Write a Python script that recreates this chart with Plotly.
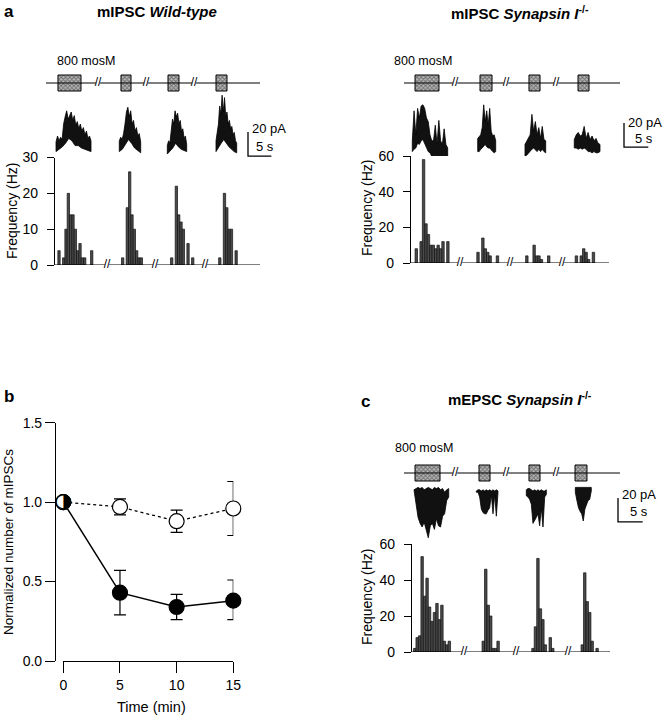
import plotly.graph_objects as go

W, H = 666, 719
FONT = "Liberation Sans, Arial, Helvetica, sans-serif"
BIN = 0.5          # histogram bin width (s)
SCALE_PA = 20      # scale bar, current
SCALE_S = 5        # scale bar, time

# ================= Panel a, left : mIPSC wild-type =================
wt_hist_start = [4.07, 17.70, 28.20, 38.50]
wt_hist_g1 = [4, 0, 2, 10, 20, 14, 14, 10, 4, 6, 2, 2, 0, 0, 4]
wt_hist_g2 = [2, 0, 16, 26, 14, 10, 4, 2, 2]
wt_hist_g3 = [2, 0, 22, 14, 12, 10, 0, 6, 0, 2]
wt_hist_g4 = [2, 0, 20, 16, 10, 10, 0, 4]
wt_stim_on = [3.85, 17.34, 27.41, 37.69]
wt_stim_off = [8.78, 19.49, 29.76, 40.04]
wt_stim_line = [1.28, 47.11]
wt_stim_breaks = [12.42, 22.70, 32.98]
wt_base_line = [3.00, 47.11]
wt_base_breaks = [14.35, 24.63, 35.33]
wt_tr_start = [3.43, 16.98, 27.26, 37.69]
wt_tr_end = [10.92, 21.56, 31.41, 42.12]
wt_tr1_up = [15, 20, 16, 19, 17, 30, 36, 41, 34, 38, 40, 33, 37, 29, 32, 26, 30, 24, 27, 21, 24, 18, 20, 16]
wt_tr1_lo = [7, 9, 11, 14, 18, 16, 12, 12, 10, 9, 8, 7]
wt_tr2_up = [16, 19, 17, 22, 30, 40, 44, 36, 41, 30, 33, 24, 27, 20, 22, 15]
wt_tr2_lo = [7, 9, 13, 17, 14, 10, 8, 6]
wt_tr3_up = [12, 16, 14, 24, 34, 30, 41, 36, 39, 30, 33, 24, 26, 18, 20, 13]
wt_tr3_lo = [5, 7, 10, 14, 11, 9, 8, 7]
wt_tr4_up = [16, 22, 30, 45, 38, 54, 40, 52, 36, 40, 30, 33, 26, 28, 21, 23, 16, 14]
wt_tr4_lo = [7, 10, 14, 17, 14, 11, 9, 7, 6]
wt_scale = [44.54, 3.3]

# ================= Panel a, right : mIPSC Synapsin I -/- =================
ko_hist_start = [3.35, 16.05, 26.10, 36.30]
ko_hist_g1 = [8, 0, 12, 58, 22, 16, 10, 10, 8, 10, 8, 12, 0, 12]
ko_hist_g2 = [6, 0, 14, 8, 6, 4, 0, 0, 4]
ko_hist_g3 = [4, 0, 0, 10, 4, 4, 2, 0, 0, 4]
ko_hist_g4 = [4, 0, 4, 8, 6, 2, 0, 6]
ko_stim_on = [3.09, 16.46, 26.54, 36.63]
ko_stim_off = [8.02, 18.93, 28.81, 38.89]
ko_stim_line = [0.82, 45.27]
ko_stim_breaks = [11.32, 21.81, 32.10]
ko_base_line = [2.06, 43.00]
ko_base_breaks = [12.35, 22.63, 33.33]
ko_tr_start = [2.53, 15.99, 25.72, 35.86]
ko_tr_end = [9.81, 19.69, 29.98, 41.15]
ko_tr1_up = [16, 41, 21, 43, 35, 45, 46, 43, 35, 32, 21, 16, 16, 29, 13, 33, 16, 13, 26, 13, 10]
ko_tr1_lo = [7, 9, 10, 14, 13, 16, 17, 13, 10, 7, 6, 3, 3, 4, 2, 3, 2, 2, 3, 2, 3]
ko_tr2_up = [18, 20, 21, 27, 46, 32, 41, 29, 43, 24, 20, 21, 16]
ko_tr2_lo = [7, 7, 9, 10, 11, 13, 11, 10, 10, 9, 7, 6, 7]
ko_tr3_up = [13, 16, 18, 21, 38, 24, 32, 21, 27, 18, 28, 17, 16]
ko_tr3_lo = [3, 4, 6, 7, 9, 10, 9, 7, 9, 7, 9, 7, 6]
ko_tr4_up = [17, 21, 23, 20, 21, 28, 18, 23, 17, 20, 16, 18, 14, 13]
ko_tr4_lo = [10, 10, 9, 10, 9, 10, 9, 7, 7, 6, 7, 6, 6, 7]
ko_scale = [46.09, 10.8]

# ================= Panel b : normalized number of mIPSCs =================
time_min = [0, 5, 10, 15]
wt_norm = [1.00, 0.97, 0.88, 0.96]
wt_norm_err = [0.00, 0.05, 0.07, 0.17]
ko_norm = [1.00, 0.43, 0.34, 0.38]
ko_norm_err_up = [0.00, 0.14, 0.08, 0.13]
ko_norm_err_dn = [0.00, 0.14, 0.08, 0.12]

# ================= Panel c : mEPSC Synapsin I -/- =================
ep_hist_start = [2.98, 16.86, 26.92, 36.90]
ep_hist_g1 = [2, 8, 9, 53, 31, 41, 25, 17, 22, 27, 18, 26, 6, 4, 6]
ep_hist_g2 = [6, 46, 26, 20, 2, 2, 6]
ep_hist_g3 = [2, 14, 52, 24, 18, 4, 0, 8, 2]
ep_hist_g4 = [4, 44, 28, 22, 6, 0, 2]
ep_stim_on = [3.04, 15.99, 26.11, 35.43]
ep_stim_off = [8.10, 18.22, 28.34, 37.85]
ep_stim_line = [0.81, 44.53]
ep_stim_breaks = [11.13, 21.46, 31.58]
ep_base_line = [2.23, 42.51]
ep_base_breaks = [12.96, 23.48, 34.01]
ep_tr_start = [2.83, 15.45, 25.57, 35.49]
ep_tr_end = [9.86, 19.84, 29.62, 38.72]
ep_tr1_up = [46, 47, 48, 47, 48, 46, 47, 48, 47, 46, 48, 47, 48, 46, 47, 44, 46, 47]
ep_tr1_lo = [42, 34, 23, 18, 15, 19, 12, 6, 16, 18, 13, 22, 16, 15, 24, 26, 37, 40]
ep_tr2_up = [45, 46, 46, 45, 46, 45, 46, 45, 46, 45, 46, 45, 46, 45]
ep_tr2_lo = [44, 44, 40, 30, 27, 26, 26, 29, 31, 42, 26, 42, 24, 44]
ep_tr3_up = [46, 47, 47, 46, 45, 46, 45, 46, 45, 46, 45, 45, 46]
ep_tr3_lo = [41, 40, 38, 34, 18, 20, 23, 26, 16, 31, 15, 40, 42]
ep_tr4_up = [48, 48, 48, 48, 48, 48, 48, 48, 48, 48, 48]
ep_tr4_lo = [44, 37, 31, 28, 26, 20, 30, 34, 37, 38, 45]
ep_scale = [44.13, 19.2]

# ---------------------------------------------------------------
fig = go.Figure()


def px_x(a, b):
    return [a / W, b / W]


def px_y(top, bottom):
    return [1 - bottom / H, 1 - top / H]


def poly(t0, t1, up, lo):
    n, m = len(up), len(lo)
    tu = [t0 + (t1 - t0) * i / (n - 1) for i in range(n)]
    tl = [t0 + (t1 - t0) * i / (m - 1) for i in range(m)]
    return tu + tl[::-1] + [tu[0]], up + lo[::-1] + [up[0]]


def broken(lo, hi, breaks, gap, level):
    xs = [lo]
    for b in breaks:
        xs += [b - gap, None, b + gap]
    xs.append(hi)
    ys = [None if v is None else level for v in xs]
    return xs, ys


def panel(xa, ys_, yt, yh, stim_on, stim_off, stim_line, stim_breaks,
          base_line, base_breaks, h_start, h_groups, tr_start, tr_end, trs, scale):
    common = dict(hoverinfo="skip", showlegend=False)
    # stimulus protocol line
    sx, sy = broken(stim_line[0], stim_line[1], stim_breaks, 0.45, 0.5)
    fig.add_trace(go.Scatter(x=sx, y=sy, mode="lines", line=dict(color="black", width=1),
                             xaxis=xa, yaxis=ys_, **common))
    fig.add_trace(go.Scatter(x=stim_breaks, y=[0.5] * len(stim_breaks), mode="text",
                             text=["//"] * len(stim_breaks),
                             textfont=dict(size=12, family=FONT, color="black"),
                             xaxis=xa, yaxis=ys_, **common))
    fig.add_trace(go.Bar(x=[(a + b) / 2 for a, b in zip(stim_on, stim_off)],
                         y=[0.8] * len(stim_on), base=[0.1] * len(stim_on),
                         width=[b - a for a, b in zip(stim_on, stim_off)],
                         marker=dict(color="#9c9c9c", line=dict(color="black", width=1),
                                     pattern=dict(shape="x", fgcolor="#222222", bgcolor="#b8b8b8",
                                                  size=3, solidity=0.5)),
                         xaxis=xa, yaxis=ys_, **common))
    # current traces
    for t0, t1, (up, lo) in zip(tr_start, tr_end, trs):
        px_, py_ = poly(t0, t1, up, lo)
        fig.add_trace(go.Scatter(x=px_, y=py_, mode="lines", fill="toself", fillcolor="#111111",
                                 line=dict(color="black", width=0.8), xaxis=xa, yaxis=yt, **common))
    # scale bar
    fig.add_trace(go.Scatter(x=[scale[0], scale[0], scale[0] + SCALE_S],
                             y=[scale[1] + SCALE_PA, scale[1], scale[1]], mode="lines",
                             line=dict(color="black", width=1.3), xaxis=xa, yaxis=yt, **common))
    # histogram
    hx, hy = [], []
    for s, g in zip(h_start, h_groups):
        for i, v in enumerate(g):
            if v > 0:
                hx.append(s + BIN * i)
                hy.append(v)
    fig.add_trace(go.Bar(x=hx, y=hy, width=BIN,
                         marker=dict(color="#4a4a4a", line=dict(color="#111111", width=0.7)),
                         xaxis=xa, yaxis=yh, **common))
    bx, by = broken(base_line[0], base_line[1], base_breaks, 0.45, 0)
    fig.add_trace(go.Scatter(x=bx, y=by, mode="lines", line=dict(color="black", width=1.2),
                             xaxis=xa, yaxis=yh, cliponaxis=False, **common))
    fig.add_trace(go.Scatter(x=base_breaks, y=[0] * len(base_breaks), mode="text",
                             text=["//"] * len(base_breaks),
                             textfont=dict(size=12, family=FONT, color="black"),
                             xaxis=xa, yaxis=yh, cliponaxis=False, **common))


panel("x", "y", "y2", "y3", wt_stim_on, wt_stim_off, wt_stim_line, wt_stim_breaks,
      wt_base_line, wt_base_breaks, wt_hist_start,
      [wt_hist_g1, wt_hist_g2, wt_hist_g3, wt_hist_g4], wt_tr_start, wt_tr_end,
      [(wt_tr1_up, wt_tr1_lo), (wt_tr2_up, wt_tr2_lo), (wt_tr3_up, wt_tr3_lo), (wt_tr4_up, wt_tr4_lo)],
      wt_scale)
panel("x2", "y4", "y5", "y6", ko_stim_on, ko_stim_off, ko_stim_line, ko_stim_breaks,
      ko_base_line, ko_base_breaks, ko_hist_start,
      [ko_hist_g1, ko_hist_g2, ko_hist_g3, ko_hist_g4], ko_tr_start, ko_tr_end,
      [(ko_tr1_up, ko_tr1_lo), (ko_tr2_up, ko_tr2_lo), (ko_tr3_up, ko_tr3_lo), (ko_tr4_up, ko_tr4_lo)],
      ko_scale)
panel("x4", "y8", "y9", "y10", ep_stim_on, ep_stim_off, ep_stim_line, ep_stim_breaks,
      ep_base_line, ep_base_breaks, ep_hist_start,
      [ep_hist_g1, ep_hist_g2, ep_hist_g3, ep_hist_g4], ep_tr_start, ep_tr_end,
      [(ep_tr1_up, ep_tr1_lo), (ep_tr2_up, ep_tr2_lo), (ep_tr3_up, ep_tr3_lo), (ep_tr4_up, ep_tr4_lo)],
      ep_scale)

# ---- panel b ----
fig.add_trace(go.Scatter(x=time_min, y=ko_norm, mode="lines+markers",
                         line=dict(color="black", width=1.5),
                         marker=dict(size=15, color="black", line=dict(color="black", width=1.2)),
                         error_y=dict(type="data", symmetric=False, array=ko_norm_err_up,
                                      arrayminus=ko_norm_err_dn, color="black", thickness=1.2, width=6),
                         xaxis="x3", yaxis="y7", cliponaxis=False, hoverinfo="skip", showlegend=False))
fig.add_trace(go.Scatter(x=time_min, y=wt_norm, mode="lines+markers",
                         line=dict(color="black", width=1.3, dash="dot"),
                         marker=dict(size=15, color="white", line=dict(color="black", width=1.2)),
                         error_y=dict(type="data", array=wt_norm_err, color="black", thickness=1.2, width=6),
                         xaxis="x3", yaxis="y7", cliponaxis=False, hoverinfo="skip", showlegend=False))
fig.add_trace(go.Scatter(x=time_min[:1], y=ko_norm[:1], mode="text", text=["\u25D1"],
                         textposition="middle center",
                         textfont=dict(size=20, family="DejaVu Sans", color="black"),
                         xaxis="x3", yaxis="y7", cliponaxis=False, hoverinfo="skip", showlegend=False))

# ---- axes ----
def hx_axis(dom_px, rng):
    return dict(domain=px_x(*dom_px), range=rng, visible=False, fixedrange=True, automargin=False)


def hy_axis(anchor, dom_px, rng):
    return dict(domain=px_y(*dom_px), range=rng, visible=False, anchor=anchor, fixedrange=True,
                automargin=False)


def hist_axis(xpos, dom_px, rng, tickvals):
    return dict(domain=px_y(*dom_px), range=rng, anchor="free", position=xpos / W,
                showline=True, linecolor="black", linewidth=1.2, ticks="outside", ticklen=7,
                tickwidth=1.2, tickcolor="black", tickvals=tickvals, showgrid=False, zeroline=False,
                tickfont=dict(family=FONT, size=14, color="black"), ticklabelstandoff=6,
                fixedrange=True, automargin=False)


layout_axes = dict(
    xaxis=hx_axis((40, 300), [0, 260 / 4.67]),
    yaxis=hy_axis("x", (73, 93), [0, 1]),
    yaxis2=hy_axis("x", (93, 160), [0, 67 / 1.2]),
    yaxis3=hist_axis(54, (157.5, 265), [0, 30], [0, 10, 20, 30]),
    xaxis2=hx_axis((400, 666), [0, 266 / 4.86]),
    yaxis4=hy_axis("x2", (73, 93), [0, 1]),
    yaxis5=hy_axis("x2", (93, 160), [0, 67 / 1.2]),
    yaxis6=hist_axis(410, (156, 263), [0, 60], [0, 20, 40, 60]),
    xaxis4=hx_axis((400, 666), [0, 266 / 4.94]),
    yaxis8=hy_axis("x4", (463, 483), [0, 1]),
    yaxis9=hy_axis("x4", (484, 545), [0, 61 / 1.2]),
    yaxis10=hist_axis(411, (544, 652), [0, 60], [0, 20, 40, 60]),
    xaxis3=dict(domain=px_x(63.3, 233.3), range=[0, 15], anchor="y7", showline=True,
                linecolor="black", linewidth=1.2, ticks="outside", ticklen=11, tickwidth=1.2,
                tickcolor="black", tickvals=[0, 5, 10, 15], showgrid=False, zeroline=False,
                tickfont=dict(family=FONT, size=14, color="black"), fixedrange=True,
                automargin=False),
    yaxis7=dict(domain=px_y(422.7, 661), range=[0, 1.5], anchor="free", position=55 / W,
                showline=True, linecolor="black", linewidth=1.2, ticks="outside", ticklen=10,
                tickwidth=1.2, tickcolor="black", tickvals=[0, 0.5, 1.0, 1.5], tickformat=".1f",
                showgrid=False, zeroline=False,
                tickfont=dict(family=FONT, size=14, color="black"), fixedrange=True,
                automargin=False),
)

# ---- text ----
ann = []


def text(s, xpx, ypx, size, xanchor="center", yanchor="middle", angle=0):
    ann.append(dict(text=s, x=xpx / W, y=1 - ypx / H, xref="paper", yref="paper",
                    xanchor=xanchor, yanchor=yanchor, showarrow=False, textangle=angle,
                    borderpad=0, font=dict(family=FONT, size=size, color="black")))


text("<b>a</b>", 3, 11, 17, xanchor="left")
text("<b>b</b>", 3, 396, 17, xanchor="left")
text("<b>c</b>", 360, 401, 17, xanchor="left")
text("<b>mIPSC <i>Wild-type</i></b>", 157, 11, 15)
text("<b>mIPSC <i>Synapsin I</i><sup>-/-</sup></b>", 520, 13, 15)
text("<b>mEPSC <i>Synapsin I</i><sup>-/-</sup></b>", 520, 398, 15)
text("800 mosM", 56, 61, 12.5, xanchor="left")
text("800 mosM", 393, 61, 12.5, xanchor="left")
text("800 mosM", 394, 448, 12.5, xanchor="left")
text("20 pA", 251, 129, 13, xanchor="left")
text("5 s", 275, 146, 13, xanchor="right")
text("20 pA", 627, 122, 13, xanchor="left")
text("5 s", 654, 139, 13, xanchor="right")
text("20 pA", 621, 494, 13, xanchor="left")
text("5 s", 649, 511, 13, xanchor="right")
text("Frequency (Hz)", 12, 211, 14, angle=-90)
text("Frequency (Hz)", 367, 208, 14, angle=-90)
text("Frequency (Hz)", 367, 597, 14, angle=-90)
text("Normalized number of mIPSCs", 8, 542, 13.5, angle=-90)
text("Time (min)", 151, 707, 14.5)

fig.update_layout(width=W, height=H,
                  margin=dict(l=0, r=0, t=0, b=0, pad=0, autoexpand=False),
                  paper_bgcolor="white", plot_bgcolor="white", showlegend=False,
                  barmode="overlay", annotations=ann, font=dict(family=FONT, color="black"),
                  **layout_axes)

fig.write_html("out.html", config={"displayModeBar": False},
               post_script="document.body.style.margin='0';document.body.style.padding='0';")
